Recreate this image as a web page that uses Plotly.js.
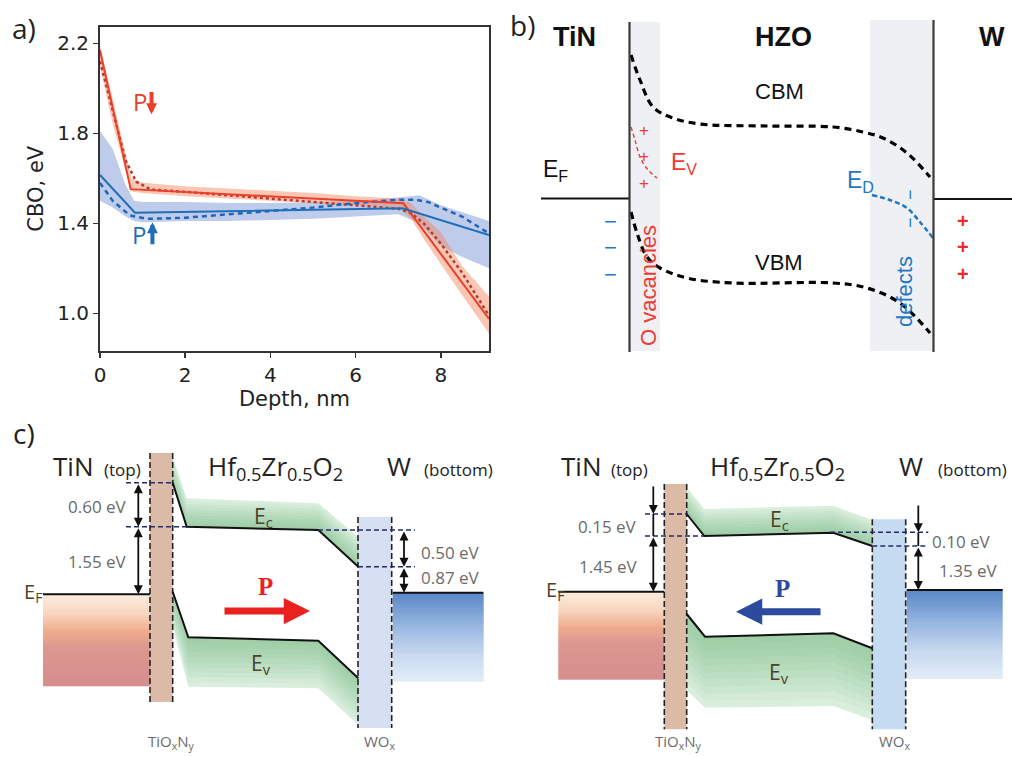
<!DOCTYPE html>
<html>
<head>
<meta charset="utf-8">
<script src="https://cdn.plot.ly/plotly-3.0.1.min.js"></script>
<style>html,body{margin:0;padding:0;background:#fff;}#chart{width:1012px;height:757px;}</style>
</head>
<body>
<div id="chart"></div>
<script>
// ---------------- Panel a data (Depth, nm vs CBO, eV) ----------------
const redSolidX = [0, 0.72, 7.12, 9.13];
const redSolidY = [2.17, 1.552, 1.489, 0.975];
const redDotX = [0, 0.3, 0.6, 0.85, 1.2, 2, 3, 4, 5, 6, 7, 7.3, 7.6, 8, 8.5, 9.13];
const redDotY = [2.12, 1.90, 1.68, 1.585, 1.55, 1.54, 1.525, 1.51, 1.495, 1.48, 1.465, 1.445, 1.40, 1.31, 1.18, 0.99];
const redBandX = [0, 0.3, 0.74, 1, 2, 3, 4, 5, 6, 7, 7.3, 7.6, 8, 8.5, 9.13];
const redBandHi = [2.19, 1.95, 1.60, 1.58, 1.565, 1.555, 1.545, 1.535, 1.52, 1.51, 1.49, 1.43, 1.36, 1.21, 1.075];
const redBandLo = [2.10, 1.84, 1.54, 1.535, 1.52, 1.51, 1.50, 1.49, 1.48, 1.47, 1.42, 1.33, 1.22, 1.08, 0.91];

const blueSolidX = [0, 0.82, 7.1, 9.13];
const blueSolidY = [1.615, 1.447, 1.467, 1.348];
const blueDashX = [0, 0.3, 0.7, 1.1, 2, 3, 4, 5, 6, 7, 7.4, 7.7, 8, 8.5, 9.13];
const blueDashY = [1.58, 1.50, 1.435, 1.42, 1.425, 1.44, 1.455, 1.47, 1.49, 1.505, 1.505, 1.495, 1.47, 1.43, 1.355];
const blueBandX = [0, 0.3, 0.6, 0.8, 1, 2, 3, 4, 5, 6, 7, 7.5, 8, 8.5, 9.13];
const blueBandHi = [1.81, 1.73, 1.57, 1.50, 1.495, 1.495, 1.49, 1.49, 1.495, 1.50, 1.515, 1.525, 1.48, 1.45, 1.41];
const blueBandLo = [1.50, 1.47, 1.43, 1.41, 1.405, 1.41, 1.41, 1.415, 1.42, 1.43, 1.44, 1.40, 1.30, 1.25, 1.20];

const depthTicks = [0, 2, 4, 6, 8];
const cboTicks = [1.0, 1.4, 1.8, 2.2];
const cboTickText = ['1.0', '1.4', '1.8', '2.2'];

// ---------------- Panel b schematic (figure-pixel frame) ----------------
const bCbmX = [631, 640, 653, 673, 700, 767, 833, 863, 883, 907, 930];
const bCbmY = [55, 80, 107, 118, 124, 126, 127, 132, 138, 153, 177];
const bVbmX = [631, 637, 647, 660, 687, 733, 833, 867, 900, 930];
const bVbmY = [212, 233, 257, 268, 278, 283, 283, 288, 303, 333];
const bEvX = [631, 635, 640, 648, 657];
const bEvY = [127, 140, 157, 170, 178];
const bEdX = [872, 890, 907, 920, 933];
const bEdY = [195, 200, 208, 222, 238];
const bEfLeftX = [541, 629], bEfLeftY = [198.5, 198.5];
const bEfRightX = [933, 1012], bEfRightY = [199, 199];
const bWallLeftX = [629.5, 629.5], bWallLeftY = [22, 352];
const bWallRightX = [933.5, 933.5], bWallRightY = [20, 352];

// ---------------- Panel c schematics (figure-pixel frame) ----------------
const cL = {
  ecX: [172.7, 186.7, 318.3, 358.3], ecY: [482.7, 526.7, 530, 566.7],
  ecTopY: [456.7, 498.3, 503.3, 536.7],
  evX: [172.7, 188.3, 318.3, 358.3], evY: [591.7, 637.3, 640.7, 678.3],
  evBotY: [626.7, 686.7, 688.3, 725],
  tio: [150, 172.7, 453, 702], wox: [358, 391.7, 517, 728],
  metalL: [43, 150, 594.3, 686], metalR: [392.7, 483.3, 592.7, 682],
  dash1: [[126, 172.7], 482.7], dash2: [[126, 186.7], 526.7],
  dash3: [[318, 415], 530], dash4: [[358, 415], 566.7]
};
const cR = {
  ecX: [686.7, 704.3, 833.3, 872.3], ecY: [514, 536, 532.7, 546],
  ecTopY: [487.3, 509, 505.7, 520],
  evX: [686.7, 705, 833.3, 872.3], evY: [614, 636.7, 633.3, 648.3],
  evBotY: [690, 707.7, 706, 720],
  tio: [664.3, 686.7, 484, 729.3], wox: [872.3, 905.7, 519.3, 729.3],
  metalL: [558.3, 664.3, 591.7, 679.3], metalR: [906.7, 1002.7, 590, 679.3],
  dash1: [[645, 686.7], 514], dash2: [[645, 704.3], 536],
  dash3: [[830, 928.3], 532.3], dash4: [[872.3, 928.3], 546]
};

const traces = [];
traces.push({x: blueBandX.concat(blueBandX.slice().reverse()), y: blueBandHi.concat(blueBandLo.slice().reverse()),
  fill: 'toself', fillcolor: 'rgba(110,140,210,0.45)', line: {width: 0}, mode: 'lines', hoverinfo: 'skip', xaxis: 'x', yaxis: 'y'});
traces.push({x: redBandX.concat(redBandX.slice().reverse()), y: redBandHi.concat(redBandLo.slice().reverse()),
  fill: 'toself', fillcolor: 'rgba(245,130,90,0.45)', line: {width: 0}, mode: 'lines', hoverinfo: 'skip', xaxis: 'x', yaxis: 'y'});
traces.push({x: redDotX, y: redDotY, mode: 'lines', line: {color: '#b8392c', width: 2.5, dash: 'dot'}, xaxis: 'x', yaxis: 'y'});
traces.push({x: blueDashX, y: blueDashY, mode: 'lines', line: {color: '#1f66b8', width: 2.5, dash: '5px,4px'}, xaxis: 'x', yaxis: 'y'});
traces.push({x: redSolidX, y: redSolidY, mode: 'lines', line: {color: '#e8402a', width: 2}, xaxis: 'x', yaxis: 'y'});
traces.push({x: blueSolidX, y: blueSolidY, mode: 'lines', line: {color: '#1f6fb8', width: 2}, xaxis: 'x', yaxis: 'y'});

function ov(t) { t.xaxis = 'x2'; t.yaxis = 'y2'; t.hoverinfo = 'skip'; t.showlegend = false; return t; }

const bDash = {color: '#000', width: 3.2, dash: '7px,5px'};
traces.push(ov({x: bCbmX, y: bCbmY, mode: 'lines', line: Object.assign({shape: 'spline'}, bDash)}));
traces.push(ov({x: bVbmX, y: bVbmY, mode: 'lines', line: Object.assign({shape: 'spline'}, bDash)}));
traces.push(ov({x: bEvX, y: bEvY, mode: 'lines', line: {color: '#ee3b33', width: 1.4, dash: '4px,3px', shape: 'spline'}}));
traces.push(ov({x: bEdX, y: bEdY, mode: 'lines', line: {color: '#2277c4', width: 2.5, dash: '5px,3px', shape: 'spline'}}));
traces.push(ov({x: bEfLeftX, y: bEfLeftY, mode: 'lines', line: {color: '#111', width: 2}}));
traces.push(ov({x: bEfRightX, y: bEfRightY, mode: 'lines', line: {color: '#111', width: 2}}));
traces.push(ov({x: bWallLeftX, y: bWallLeftY, mode: 'lines', line: {color: '#3a3a3a', width: 2.2}}));
traces.push(ov({x: bWallRightX, y: bWallRightY, mode: 'lines', line: {color: '#3a3a3a', width: 2.2}}));

function metal(box, stops) {
  const n = 40, ys = [], zs = [];
  for (let i = 0; i <= n; i++) ys.push(box[2] + (box[3] - box[2]) * i / n);
  for (let i = 0; i < n; i++) zs.push([i / (n - 1)]);
  return ov({type: 'heatmap', x: [box[0], box[1]], y: ys, z: zs, colorscale: stops, showscale: false, zmin: 0, zmax: 1});
}
const tinScale = [[0, '#fdebdc'], [0.2, '#f9d6bf'], [0.4, '#efac8c'], [0.58, '#dc9790'], [1, '#d68e8e']];
const wScale = [[0, '#5a88c8'], [0.35, '#94b4df'], [0.7, '#c8d9ef'], [1, '#e2ecf8']];

const shapes = [];
function layered(xs, edgeA, edgeB, steps, base, step) {
  traces.push(ov({x: xs.concat(xs.slice().reverse()), y: edgeA.concat(edgeB.slice().reverse()), fill: 'toself',
    fillcolor: base, line: {width: 0}, mode: 'lines'}));
  for (let k = 1; k < steps; k++) {
    const f = k / steps;
    const inner = edgeA.map((v, i) => v + (edgeB[i] - v) * f);
    traces.push(ov({x: xs.concat(xs.slice().reverse()), y: edgeA.concat(inner.slice().reverse()), fill: 'toself',
      fillcolor: step, line: {width: 0}, mode: 'lines'}));
  }
}
function panelC(c) {
  shapes.push({type: 'rect', xref: 'x2', yref: 'y2', x0: c.tio[0], x1: c.tio[1], y0: c.tio[2], y1: c.tio[3], fillcolor: '#dcbba6', line: {width: 0}, layer: 'below'});
  shapes.push({type: 'rect', xref: 'x2', yref: 'y2', x0: c.wox[0], x1: c.wox[1], y0: c.wox[2], y1: c.wox[3], fillcolor: c === cL ? '#d6e0f2' : '#c4dbf1', line: {width: 0}, layer: 'below'});
  traces.push(metal(c.metalL, tinScale));
  traces.push(metal(c.metalR, wScale));
  layered(c.ecX, c.ecY, c.ecTopY, 10, 'rgba(150,205,160,0.35)', 'rgba(90,170,110,0.06)');
  layered(c.evX, c.evY, c.evBotY, 10, 'rgba(150,205,160,0.35)', 'rgba(90,170,110,0.06)');
  [c.tio[0], c.tio[1]].forEach(x => traces.push(ov({x: [x, x], y: [c.tio[2], c.tio[3]], mode: 'lines', line: {color: '#222', width: 1.6, dash: '6px,3px'}})));
  [c.wox[0], c.wox[1]].forEach(x => traces.push(ov({x: [x, x], y: [c.wox[2], c.wox[3]], mode: 'lines', line: {color: '#222', width: 1.6, dash: '6px,3px'}})));
  traces.push(ov({x: c.ecX, y: c.ecY, mode: 'lines', line: {color: '#111', width: 2}}));
  traces.push(ov({x: c.evX, y: c.evY, mode: 'lines', line: {color: '#111', width: 2}}));
  traces.push(ov({x: [c.metalL[0], c.metalL[1]], y: [c.metalL[2], c.metalL[2]], mode: 'lines', line: {color: '#111', width: 2}}));
  traces.push(ov({x: [c.metalR[0], c.metalR[1]], y: [c.metalR[2], c.metalR[2]], mode: 'lines', line: {color: '#111', width: 2}}));
  [c.dash1, c.dash2, c.dash3, c.dash4].forEach(d => traces.push(ov({x: d[0], y: [d[1], d[1]], mode: 'lines', line: {color: '#262a66', width: 1.6, dash: '5px,3px'}})));
}
panelC(cL);
panelC(cR);

shapes.push({type: 'rect', xref: 'x2', yref: 'y2', x0: 629.5, x1: 660, y0: 22, y1: 351, fillcolor: '#eef0f3', line: {width: 0}, layer: 'below'});
shapes.push({type: 'rect', xref: 'x2', yref: 'y2', x0: 870, x1: 933.5, y0: 20, y1: 351, fillcolor: '#eef0f3', line: {width: 0}, layer: 'below'});

traces.push(ov({x: [653.3, 653.3], y: [514, 536], mode: 'lines', line: {color: '#111', width: 1.8}}));
traces.push(ov({x: [918.3, 918.3], y: [532.3, 546], mode: 'lines', line: {color: '#111', width: 1.8}}));

const ann = [];
function txt(x, y, text, o) {
  ann.push(Object.assign({xref: 'x2', yref: 'y2', x: x, y: y, text: text, showarrow: false, xanchor: 'center', yanchor: 'middle'}, o || {}));
}
function arr(x, y, ax, ay, o) {
  ann.push(Object.assign({xref: 'x2', yref: 'y2', axref: 'x2', ayref: 'y2', x: x, y: y, ax: ax, ay: ay, text: '', showarrow: true,
    arrowhead: 2, arrowsize: 1, arrowwidth: 1.8, arrowcolor: '#111', standoff: 0, startstandoff: 0}, o || {}));
}
const fOpen = 'Open Sans, Noto Sans, sans-serif';
const fArial = 'Liberation Sans, Arial, sans-serif';
const fDeja = 'DejaVu Sans, sans-serif';

txt(24, 28, 'a)', {font: {family: fOpen, size: 28, color: '#222'}});
txt(522, 25, 'b)', {font: {family: fOpen, size: 28, color: '#222'}});
txt(24, 433, 'c)', {font: {family: fOpen, size: 28, color: '#222'}});

ann.push({xref: 'x', yref: 'y', x: 0.94, y: 1.94, text: 'P', showarrow: false, font: {family: fOpen, size: 24, color: '#e8402a'}});
ann.push({xref: 'x', yref: 'y', axref: 'x', ayref: 'y', x: 1.21, y: 1.885, ax: 1.21, ay: 1.99, text: '', showarrow: true, arrowhead: 2, arrowsize: 0.55, arrowwidth: 4, arrowcolor: '#e8402a', standoff: 0});
ann.push({xref: 'x', yref: 'y', x: 0.92, y: 1.352, text: 'P', showarrow: false, font: {family: fOpen, size: 24, color: '#1f6fb8'}});
ann.push({xref: 'x', yref: 'y', axref: 'x', ayref: 'y', x: 1.23, y: 1.405, ax: 1.23, ay: 1.30, text: '', showarrow: true, arrowhead: 2, arrowsize: 0.55, arrowwidth: 4, arrowcolor: '#1f6fb8', standoff: 0});

txt(574, 37, '<b>TiN</b>', {font: {family: fArial, size: 27, color: '#111'}});
txt(783, 37, '<b>HZO</b>', {font: {family: fArial, size: 27, color: '#111'}});
txt(992, 37, '<b>W</b>', {font: {family: fArial, size: 27, color: '#111'}});
txt(779, 91, 'CBM', {font: {family: fArial, size: 22, color: '#111'}});
txt(779, 262, 'VBM', {font: {family: fArial, size: 22, color: '#111'}});
txt(555, 170, 'E<sub>F</sub>', {font: {family: fArial, size: 23, color: '#111'}});
txt(684, 163, 'E<sub>V</sub>', {font: {family: fArial, size: 23, color: '#ee3b33'}});
txt(860, 181, 'E<sub>D</sub>', {font: {family: fArial, size: 23, color: '#2277c4'}});
txt(648, 286, 'O vacancies', {textangle: -90, font: {family: fArial, size: 22, color: '#ee3b33'}});
txt(904, 292, 'defects', {textangle: -90, font: {family: fArial, size: 22, color: '#2277c4'}});
[130, 156, 183].forEach(y => txt(644, y, '+', {font: {family: fArial, size: 17, color: '#ee3b33'}}));
[221, 247, 274].forEach(y => txt(610, y, '−', {font: {family: fArial, size: 22, color: '#2277c4'}}));
[195, 223].forEach(y => txt(910, y, '−', {textangle: -90, font: {family: fArial, size: 18, color: '#2277c4'}}));
[221, 247, 274].forEach(y => txt(963, y, '<b>+</b>', {font: {family: fArial, size: 20, color: '#ee2b2b'}}));

const olive = '#4b4228', grayT = '#6b6b6b';
function headings(tinX, topX, hzoX, wX, botX) {
  txt(tinX, 466, 'TiN', {font: {family: fOpen, size: 26, color: '#222'}});
  txt(topX, 469, '(top)', {font: {family: fOpen, size: 17, color: '#222'}});
  txt(hzoX, 467, 'Hf<sub>0.5</sub>Zr<sub>0.5</sub>O<sub>2</sub>', {font: {family: fOpen, size: 26, color: '#222'}});
  txt(wX, 466, 'W', {font: {family: fOpen, size: 26, color: '#222'}});
  txt(botX, 469, '(bottom)', {font: {family: fOpen, size: 17, color: '#222'}});
}
headings(73, 122, 275, 399, 458);
headings(581, 629, 777, 911, 972);

txt(33, 592, 'E<sub>F</sub>', {font: {family: fOpen, size: 20, color: olive}});
txt(555, 590, 'E<sub>F</sub>', {font: {family: fOpen, size: 20, color: olive}});
txt(263, 517, 'E<sub>c</sub>', {font: {family: fOpen, size: 21, color: olive}});
txt(261, 664, 'E<sub>v</sub>', {font: {family: fOpen, size: 21, color: olive}});
txt(779, 520, 'E<sub>c</sub>', {font: {family: fOpen, size: 21, color: olive}});
txt(779, 673, 'E<sub>v</sub>', {font: {family: fOpen, size: 21, color: olive}});

txt(97, 506, '0.60 eV', {font: {family: fOpen, size: 17, color: grayT}});
txt(97, 561, '1.55 eV', {font: {family: fOpen, size: 17, color: grayT}});
txt(450, 552, '0.50 eV', {font: {family: fOpen, size: 17, color: grayT}});
txt(450, 577, '0.87 eV', {font: {family: fOpen, size: 17, color: grayT}});
txt(607, 526, '0.15 eV', {font: {family: fOpen, size: 17, color: grayT}});
txt(608, 566, '1.45 eV', {font: {family: fOpen, size: 17, color: grayT}});
txt(961, 541, '0.10 eV', {font: {family: fOpen, size: 17, color: grayT}});
txt(968, 570, '1.35 eV', {font: {family: fOpen, size: 17, color: grayT}});

txt(171, 742, 'TiO<sub>x</sub>N<sub>y</sub>', {font: {family: fOpen, size: 15, color: grayT}});
txt(380, 742, 'WO<sub>x</sub>', {font: {family: fOpen, size: 15, color: grayT}});
txt(678, 742, 'TiO<sub>x</sub>N<sub>y</sub>', {font: {family: fOpen, size: 15, color: grayT}});
txt(895, 742, 'WO<sub>x</sub>', {font: {family: fOpen, size: 15, color: grayT}});

txt(265, 586, '<b>P</b>', {font: {family: 'Liberation Serif, DejaVu Serif, serif', size: 25, color: '#e8231f'}});
txt(782, 588, '<b>P</b>', {font: {family: 'Liberation Serif, DejaVu Serif, serif', size: 25, color: '#2c4a9e'}});
arr(310, 611, 223, 611, {arrowcolor: '#e8231f', arrowwidth: 7, arrowhead: 2, arrowsize: 0.75});
arr(736, 611.7, 822, 611.7, {arrowcolor: '#2c4a9e', arrowwidth: 7, arrowhead: 2, arrowsize: 0.75});

arr(138.3, 526.7, 138.3, 482.7, {arrowside: 'end+start'});
arr(138.3, 594.3, 138.3, 526.7, {arrowside: 'end+start'});
arr(404, 566.7, 404, 530, {arrowside: 'end+start'});
arr(404, 592.7, 404, 566.7, {arrowside: 'end+start'});
arr(653.3, 514, 653.3, 485);
arr(653.3, 591.7, 653.3, 536, {arrowside: 'end+start'});
arr(918.3, 532.3, 918.3, 504);
arr(918.3, 590, 918.3, 546, {arrowside: 'end+start'});

const layout = {
  width: 1012, height: 757,
  margin: {l: 0, r: 0, t: 0, b: 0},
  paper_bgcolor: '#ffffff', plot_bgcolor: 'rgba(0,0,0,0)',
  showlegend: false,
  xaxis: {domain: [100 / 1012, 489 / 1012], anchor: 'y', range: [0, 9.13], tickvals: depthTicks,
    ticks: 'outside', ticklen: 5, tickwidth: 1.5, tickcolor: '#333', showline: true, mirror: true, linecolor: '#333', linewidth: 2,
    showgrid: false, zeroline: false, tickfont: {family: fDeja, size: 20, color: '#222'},
    title: {text: 'Depth, nm', font: {family: fDeja, size: 21, color: '#222'}, standoff: 3}},
  yaxis: {domain: [1 - 350.7 / 757, 1 - 26.7 / 757], anchor: 'x', range: [0.834, 2.274], tickvals: cboTicks, ticktext: cboTickText,
    ticks: 'outside', ticklen: 5, tickwidth: 1.5, tickcolor: '#333', showline: true, mirror: true, linecolor: '#333', linewidth: 2,
    showgrid: false, zeroline: false, tickfont: {family: fDeja, size: 20, color: '#222'},
    title: {text: 'CBO, eV', font: {family: fDeja, size: 21, color: '#222'}, standoff: 8}},
  xaxis2: {domain: [0, 1], anchor: 'y2', range: [0, 1012], visible: false, fixedrange: true},
  yaxis2: {domain: [0, 1], anchor: 'x2', range: [757, 0], visible: false, fixedrange: true},
  shapes: shapes,
  annotations: ann
};

Plotly.newPlot('chart', traces, layout, {displayModeBar: false, staticPlot: true});
</script>
</body>
</html>
